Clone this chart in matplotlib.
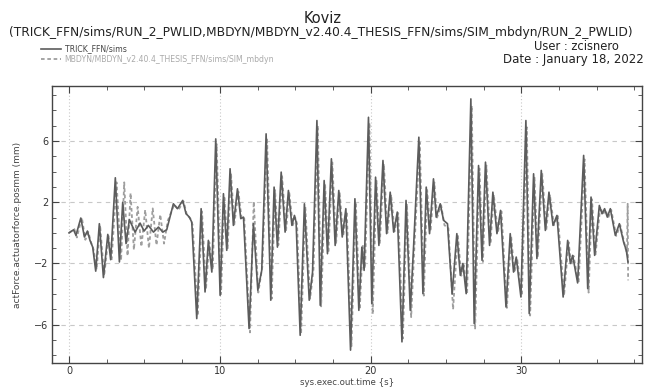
import numpy as np
import matplotlib.pyplot as plt
from matplotlib.ticker import MultipleLocator, FixedLocator

# TRICK run (solid)
t_trick = [0.0, 0.3, 0.46, 0.78, 1.02, 1.22, 1.39, 1.57, 1.77, 2.01,
           2.28, 2.57, 2.76, 3.07, 3.34, 3.56, 3.78, 4.0, 4.38, 4.71,
           4.98, 5.26, 5.6, 5.93, 6.22, 6.48, 6.92, 7.19, 7.54, 7.76,
           7.98, 8.14, 8.47, 8.76, 9.02, 9.24, 9.47, 9.73, 10.02, 10.24,
           10.46, 10.68, 10.9, 11.17, 11.39, 11.57, 11.94, 12.23, 12.52, 12.78,
           13.07, 13.38, 13.6, 13.82, 14.07, 14.33, 14.55, 14.78, 14.95, 15.06,
           15.33, 15.61, 15.93, 16.15, 16.44, 16.66, 16.92, 17.14, 17.4, 17.65,
           17.89, 18.12, 18.36, 18.67, 18.96, 19.22, 19.42, 19.57, 19.86, 20.08,
           20.33, 20.55, 20.82, 21.06, 21.3, 21.53, 21.77, 22.08, 22.35, 22.63,
           22.85, 23.2, 23.47, 23.69, 23.91, 24.17, 24.35, 24.62, 24.84, 25.1,
           25.41, 25.72, 25.95, 26.12, 26.34, 26.65, 26.87, 27.16, 27.39, 27.62,
           27.89, 28.11, 28.38, 28.62, 28.98, 29.26, 29.48, 29.66, 29.97, 30.3,
           30.52, 30.81, 31.03, 31.32, 31.59, 31.83, 32.1, 32.36, 32.77, 33.07,
           33.25, 33.4, 33.73, 34.13, 34.4, 34.62, 34.86, 35.17, 35.35, 35.52,
           35.7, 35.9, 36.23, 36.5, 36.78, 36.96, 37.07]
pos_trick = [0.0, 0.2, -0.16, 0.97, -0.27, 0.12, -0.49, -0.93, -2.5, 0.6,
             -2.92, -0.1, -1.75, 3.6, -1.9, 2.0, -0.7, 0.86, 0.05, 0.64,
             0.12, 0.49, 0.05, 0.38, 0.05, 0.21, 1.9, 1.58, 2.12, 1.25,
             1.03, 0.7, -5.6, 1.58, -3.86, -0.49, -2.56, 6.14, -4.08, 2.56,
             -1.14, 4.19, 0.49, 2.88, 0.93, 1.03, -6.25, 0.6, -3.75, -2.45,
             6.47, -4.4, 2.99, -0.93, 3.97, 0.05, 2.77, 0.49, 1.14, 0.7,
             -6.69, 1.9, -4.4, -2.56, 7.34, -4.73, 3.42, -1.36, 4.84, -0.82,
             2.77, -0.27, 1.58, -7.66, 2.23, -5.06, -0.93, -2.45, 7.55, -4.62,
             3.64, -0.82, 4.73, -0.05, 2.66, 0.05, 1.36, -7.12, 2.12, -5.06,
             -0.93, 6.25, -3.97, 2.99, -0.05, 3.53, 1.03, 1.9, 0.82, 0.6,
             -4.0, -0.05, -2.77, -2.0, -3.97, 8.75, -5.92, 4.4, -1.79, 4.62,
             -0.82, 2.66, -0.05, 1.47, -4.84, -0.05, -2.56, -1.58, -4.19, 7.34,
             -5.27, 3.86, -1.68, 4.08, 0.16, 2.66, 0.49, 1.14, -4.19, -0.49,
             -2.0, -1.47, -3.27, 5.06, -3.64, 2.34, -1.47, 1.79, 1.25, 1.58,
             1.03, 1.58, -0.16, 0.6, -0.6, -1.14, -1.9]

# MBDYN run (dashed)
t_mbdyn = [0.0, 0.35, 0.52, 0.85, 1.08, 1.28, 1.45, 1.63, 1.83, 2.06,
           2.33, 2.62, 2.82, 3.15, 3.45, 3.66, 3.88, 4.08, 4.3, 4.55,
           4.8, 5.05, 5.3, 5.55, 5.8, 6.05, 6.3, 6.55, 6.98, 7.25,
           7.6, 7.82, 8.04, 8.2, 8.53, 8.82, 9.08, 9.3, 9.53, 9.79,
           10.08, 10.3, 10.52, 10.74, 10.96, 11.23, 11.45, 11.62, 12.0, 12.25,
           12.55, 12.82, 13.13, 13.44, 13.66, 13.88, 14.13, 14.39, 14.61, 14.84,
           15.0, 15.12, 15.39, 15.67, 15.99, 16.21, 16.5, 16.72, 16.98, 17.2,
           17.46, 17.71, 17.95, 18.18, 18.42, 18.73, 19.02, 19.28, 19.48, 19.63,
           19.92, 20.14, 20.39, 20.61, 20.88, 21.12, 21.36, 21.59, 21.83, 22.14,
           22.41, 22.69, 22.91, 23.26, 23.53, 23.75, 23.97, 24.23, 24.41, 24.68,
           24.9, 25.16, 25.47, 25.78, 26.01, 26.18, 26.4, 26.71, 26.93, 27.22,
           27.45, 27.68, 27.95, 28.17, 28.44, 28.68, 29.04, 29.32, 29.54, 29.72,
           30.03, 30.36, 30.58, 30.87, 31.09, 31.38, 31.65, 31.89, 32.16, 32.42,
           32.83, 33.13, 33.31, 33.46, 33.79, 34.19, 34.46, 34.68, 34.92, 35.23,
           35.41, 35.58, 35.76, 35.96, 36.29, 36.56, 36.84, 37.0, 37.05, 37.08]
pos_mbdyn = [0.0, 0.25, -0.3, 1.0, -0.45, 0.05, -0.6, -1.1, -2.4, 0.5,
             -2.8, -0.2, -1.8, 3.3, -1.8, 3.3, -1.5, 2.6, -1.1, 1.7,
             -0.9, 1.5, -1.0, 1.6, -0.8, 1.2, -0.7, 0.8, 1.85, 1.5,
             2.05, 1.15, 0.95, 0.5, -5.4, 1.4, -3.7, -0.6, -2.4, 5.8,
             -4.0, 2.4, -1.0, 3.9, 0.55, 2.7, 0.9, 0.95, -6.5, 2.05,
             -3.9, -2.2, 6.2, -4.3, 2.8, -0.8, 3.7, 0.1, 2.6, 0.5,
             1.0, 0.6, -6.6, 1.7, -4.3, -2.4, 7.0, -4.8, 3.2, -1.3,
             4.6, -0.7, 2.6, -0.2, 1.4, -7.4, 2.0, -5.0, -0.8, -2.3,
             7.2, -5.3, 3.4, -0.7, 4.5, 0.0, 2.5, 0.1, 1.3, -6.9,
             1.9, -5.5, -0.8, 5.9, -4.1, 2.8, 0.1, 3.3, 1.0, 1.8,
             0.5, 0.3, -5.0, -0.1, -2.8, -2.1, -4.0, 8.3, -6.3, 4.2,
             -1.9, 4.4, -0.7, 2.5, 0.0, 1.4, -4.9, -0.2, -2.6, -1.7,
             -4.1, 6.9, -5.4, 3.6, -1.6, 3.9, 0.2, 2.5, 0.5, 1.1,
             -4.1, -0.6, -2.1, -1.5, -3.3, 4.8, -3.9, 2.2, -1.4, 1.7,
             1.2, 1.5, 1.0, 1.5, -0.2, 0.5, -0.7, -1.4, 1.9, -3.1]

fig = plt.figure(figsize=(6.46, 3.87), dpi=100)
ax = fig.add_axes([0.0805, 0.062, 0.9133, 0.716])

ax.plot(t_mbdyn, pos_mbdyn, color='#9e9e9e', lw=1.3, ls=(0, (2, 1.5)),
        label='MBDYN/MBDYN_v2.40.4_THESIS_FFN/sims/SIM_mbdyn', zorder=2)
ax.plot(t_trick, pos_trick, color='#5c5c5c', lw=1.2,
        label='TRICK_FFN/sims', zorder=3)

ax.set_xlim(-1.13, 38.0)
ax.set_ylim(-8.5, 9.6)
ax.xaxis.set_major_locator(FixedLocator([0, 10, 20, 30]))
ax.xaxis.set_minor_locator(MultipleLocator(2.5))
ax.yaxis.set_major_locator(FixedLocator([-6, -2, 2, 6]))
ax.yaxis.set_minor_locator(MultipleLocator(1))
ax.tick_params(which='both', direction='in', top=True, right=True,
               color='#444444', labelsize=7, labelcolor='#333333', pad=2.5)
ax.tick_params(which='major', length=5)
ax.tick_params(which='minor', length=3)
ax.grid(axis='y', which='major', ls=(0, (4, 4)), color='#c8c8c8', lw=0.8)
ax.grid(axis='x', which='major', ls=(0, (1, 2)), color='#c8c8c8', lw=0.8)
for s in ax.spines.values():
    s.set_color('#444444')
    s.set_linewidth(1.0)

ax.set_xlabel('sys.exec.out.time {s}', fontsize=6.2, color='#444444', labelpad=1)
ax.set_ylabel('actForce.actuatorforce.posmm (mm)', fontsize=6.5, color='#444444', labelpad=9)

fig.text(0.5, 0.953, 'Koviz', ha='center', va='center', fontsize=10.5, color='#222222')
fig.text(0.497, 0.915, '(TRICK_FFN/sims/RUN_2_PWLID,MBDYN/MBDYN_v2.40.4_THESIS_FFN/sims/SIM_mbdyn/RUN_2_PWLID)',
         ha='center', va='center', fontsize=8.8, color='#222222')
fig.text(0.893, 0.881, 'User : zcisnero', ha='center', va='center', fontsize=8.3, color='#222222')
fig.text(0.887, 0.845, 'Date : January 18, 2022', ha='center', va='center', fontsize=8.5, color='#222222')

h, l = ax.get_legend_handles_labels()
leg = fig.legend(h[::-1], l[::-1], loc='upper left', bbox_to_anchor=(0.058, 0.893),
                 frameon=False, fontsize=5.6, handlelength=2.6, handletextpad=0.5,
                 labelspacing=0.2, borderaxespad=0)
leg.get_texts()[0].set_color('#444444')
leg.get_texts()[1].set_color('#aaaaaa')

fig.savefig('out.png', dpi=100)
